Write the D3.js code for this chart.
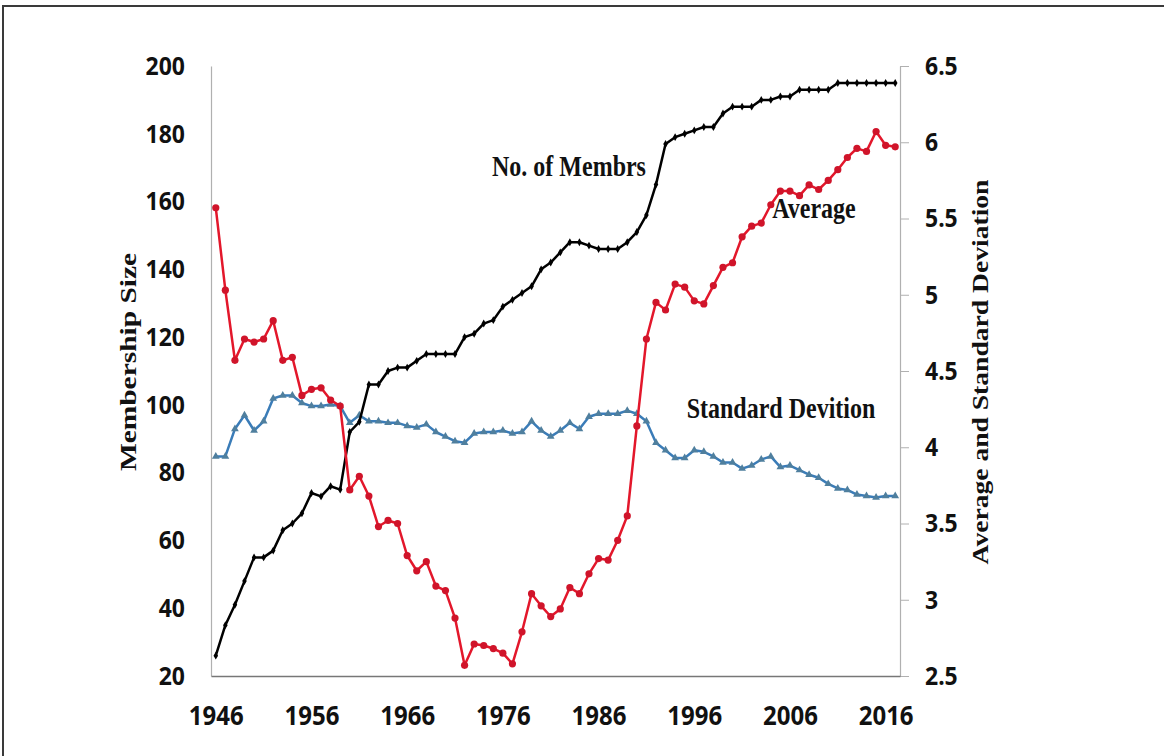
<!DOCTYPE html>
<html>
<head>
<meta charset="utf-8">
<title>Membership Size, Average and Standard Deviation</title>
<script src="https://cdnjs.cloudflare.com/ajax/libs/d3/7.8.5/d3.min.js"></script>
<style>
  body { margin: 0; background: #fff; }
  svg { display: block; }
</style>
</head>
<body>
<div id="chart"></div>
<script>
// years 1946 - 2017
var years = d3.range(1946, 2018);

// number of members (left axis)
var members = [26, 35, 41, 48, 55, 55, 57, 63, 65, 68,
  74, 73, 76, 75, 92, 95, 106, 106, 110, 111,
  111, 113, 115, 115, 115, 115, 120, 121, 124, 125,
  129, 131, 133, 135, 140, 142, 145, 148, 148, 147,
  146, 146, 146, 148, 151, 156, 165, 177, 179, 180,
  181, 182, 182, 186, 188, 188, 188, 190, 190, 191,
  191, 193, 193, 193, 193, 195, 195, 195, 195, 195,
  195, 195];

// average (right axis)
var average = [5.57, 5.03, 4.57, 4.71, 4.69, 4.71, 4.83, 4.57, 4.59, 4.34,
  4.38, 4.39, 4.31, 4.27, 3.72, 3.81, 3.68, 3.48, 3.52, 3.50,
  3.29, 3.19, 3.25, 3.09, 3.06, 2.88, 2.57, 2.71, 2.70, 2.68,
  2.65, 2.58, 2.79, 3.04, 2.96, 2.89, 2.94, 3.08, 3.04, 3.17,
  3.27, 3.26, 3.39, 3.55, 4.14, 4.71, 4.95, 4.90, 5.07, 5.05,
  4.96, 4.94, 5.06, 5.18, 5.21, 5.38, 5.45, 5.47, 5.59, 5.68,
  5.68, 5.65, 5.72, 5.69, 5.75, 5.82, 5.90, 5.96, 5.94, 6.07,
  5.98, 5.97];

// standard deviation (right axis)
var stdev = [3.94, 3.94, 4.12, 4.21, 4.11, 4.17, 4.32, 4.34, 4.34, 4.29,
  4.27, 4.27, 4.28, 4.27, 4.16, 4.21, 4.17, 4.17, 4.16, 4.16,
  4.14, 4.13, 4.15, 4.10, 4.07, 4.04, 4.03, 4.09, 4.10, 4.10,
  4.11, 4.09, 4.10, 4.17, 4.11, 4.07, 4.11, 4.16, 4.12, 4.20,
  4.22, 4.22, 4.22, 4.24, 4.22, 4.17, 4.03, 3.98, 3.93, 3.93,
  3.98, 3.97, 3.94, 3.90, 3.90, 3.86, 3.88, 3.92, 3.94, 3.87,
  3.88, 3.85, 3.82, 3.80, 3.76, 3.73, 3.72, 3.69, 3.68, 3.67,
  3.68, 3.68];

var xTicks = [1946, 1956, 1966, 1976, 1986, 1996, 2006, 2016];
var leftTicks = [20, 40, 60, 80, 100, 120, 140, 160, 180, 200];
var rightTicks = [2.5, 3, 3.5, 4, 4.5, 5, 5.5, 6, 6.5];

var W = 1164, H = 756;
var plotL = 211, plotR = 900, plotT = 66, plotB = 676;

var svg = d3.select("#chart").append("svg")
  .attr("width", W).attr("height", H);

// outer frame (only top and left edges are inside the picture)
svg.append("rect")
  .attr("x", 3).attr("y", 6)
  .attr("width", 1300).attr("height", 900)
  .attr("fill", "none").attr("stroke", "#3a3a3a").attr("stroke-width", 2);

var x = d3.scalePoint().domain(years).range([plotL, plotR]).padding(0.5);
var yL = d3.scaleLinear().domain([20, 200]).range([plotB, plotT]);
var yR = d3.scaleLinear().domain([2.5, 6.5]).range([plotB, plotT]);

var tickFont = "'Noto Sans', 'Open Sans', sans-serif";
var serif = "'Liberation Serif', 'Times New Roman', serif";

// tick labels in the original are a little taller than wide
function styleTicks(g, size) {
  g.selectAll("text").attr("font-family", tickFont).attr("font-weight", "bold")
    .attr("font-size", size).attr("fill", "#111")
    .attr("transform", "scale(1,1.12)");
}

// left axis
var gL = svg.append("g").attr("transform", "translate(" + plotL + ",0)")
  .call(d3.axisLeft(yL).tickValues(leftTicks).tickSize(0).tickPadding(26));
gL.select(".domain").attr("stroke", "#b0b0b0").attr("stroke-width", 1.2);
styleTicks(gL, 23);

// right axis
var gR = svg.append("g").attr("transform", "translate(" + plotR + ",0)")
  .call(d3.axisRight(yR).tickValues(rightTicks).tickSize(9).tickPadding(16)
    .tickSizeOuter(0).tickFormat(d3.format("")));
gR.select(".domain").attr("stroke", "#b0b0b0").attr("stroke-width", 1.2);
gR.selectAll(".tick line").attr("stroke", "#b0b0b0");
styleTicks(gR, 23);

// bottom axis
var gB = svg.append("g").attr("transform", "translate(0," + plotB + ")")
  .call(d3.axisBottom(x).tickValues(xTicks).tickSize(0).tickPadding(27));
gB.select(".domain").attr("stroke", "#777").attr("stroke-width", 1.6);
styleTicks(gB, 24);

// series
function drawLine(values, y, color, width) {
  svg.append("path")
    .datum(values)
    .attr("fill", "none")
    .attr("stroke", color)
    .attr("stroke-width", width)
    .attr("stroke-linejoin", "round")
    .attr("d", d3.line().x(function (d, i) { return x(years[i]); }).y(function (d) { return y(d); }));
}

drawLine(stdev, yR, "#3a7cb8", 2.5);
svg.append("g").selectAll("path")
  .data(stdev).enter().append("path")
  .attr("d", d3.symbol().type(d3.symbolTriangle).size(26))
  .attr("transform", function (d, i) { return "translate(" + x(years[i]) + "," + yR(d) + ")"; })
  .attr("fill", "#4f7f9e");

drawLine(members, yL, "#000", 2.5);
svg.append("g").selectAll("path")
  .data(members).enter().append("path")
  .attr("d", d3.symbol().type(d3.symbolDiamond).size(18))
  .attr("transform", function (d, i) { return "translate(" + x(years[i]) + "," + yL(d) + ")"; })
  .attr("fill", "#000");

drawLine(average, yR, "#e3172b", 2.5);
svg.append("g").selectAll("circle")
  .data(average).enter().append("circle")
  .attr("cx", function (d, i) { return x(years[i]); })
  .attr("cy", function (d) { return yR(d); })
  .attr("r", 3.6)
  .attr("fill", "#d0142a");

// axis titles
svg.append("text")
  .attr("transform", "translate(136,362) rotate(-90) scale(1.28,1)")
  .attr("text-anchor", "middle")
  .attr("font-family", serif).attr("font-weight", "bold").attr("font-size", 23)
  .attr("fill", "#111")
  .text("Membership Size");

svg.append("text")
  .attr("transform", "translate(988,372) rotate(-90) scale(1.2,1)")
  .attr("text-anchor", "middle")
  .attr("font-family", serif).attr("font-weight", "bold").attr("font-size", 23)
  .attr("fill", "#111")
  .text("Average and Standard Deviation");

// series labels
function label(txt, cx, cy) {
  svg.append("text")
    .attr("transform", "translate(" + cx + "," + cy + ") scale(1,1.2)")
    .attr("text-anchor", "middle")
    .attr("dominant-baseline", "central")
    .attr("font-family", serif).attr("font-weight", "bold").attr("font-size", 24)
    .attr("fill", "#111")
    .text(txt);
}
label("No. of Membrs", 569, 166);
label("Average", 814, 208);
label("Standard Devition", 781, 408);
</script>
</body>
</html>
